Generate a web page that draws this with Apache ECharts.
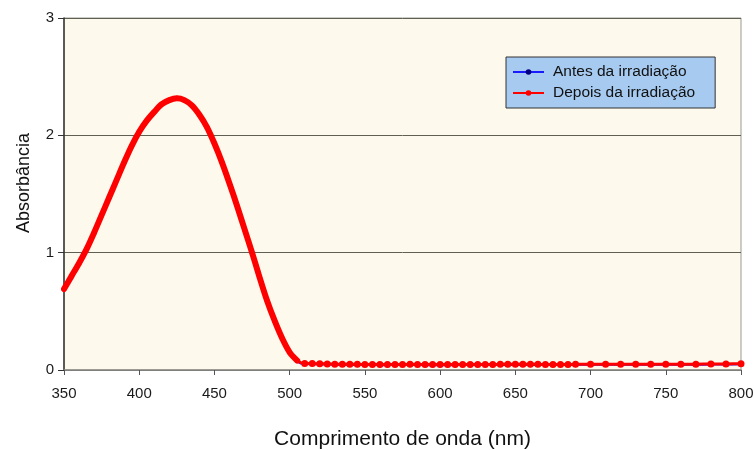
<!DOCTYPE html>
<html>
<head>
<meta charset="utf-8">
<script src="https://cdn.jsdelivr.net/npm/echarts@6/dist/echarts.min.js"></script>
<style>
  html, body { margin: 0; padding: 0; background: #ffffff; }
  #chart { width: 754px; height: 450px; }
</style>
</head>
<body>
<div id="chart"></div>
<script>
// Absorption spectrum before and after irradiation (wavelength in nm)
const wavelengths = [
  350, 355, 360, 365, 370, 375, 380, 385, 390, 395,
  400, 405, 410, 415, 420, 425, 430, 435, 440, 445,
  450, 455, 460, 465, 470, 475, 480, 485, 490, 495,
  500, 505, 510, 515, 520, 525, 530, 535, 540, 545,
  550, 555, 560, 565, 570, 575, 580, 585, 590, 595,
  600, 605, 610, 615, 620, 625, 630, 635, 640, 645,
  650, 655, 660, 665, 670, 675, 680, 685, 690, 700,
  710, 720, 730, 740, 750, 760, 770, 780, 790, 800
];

const depois = [
  0.69, 0.80, 0.91, 1.03, 1.17, 1.32, 1.47, 1.62, 1.77, 1.91,
  2.03, 2.125, 2.20, 2.265, 2.30, 2.315, 2.30, 2.255, 2.175, 2.07,
  1.93, 1.77, 1.59, 1.40, 1.20, 1.00, 0.79, 0.59, 0.42, 0.27,
  0.15, 0.08, 0.055, 0.055, 0.053, 0.052, 0.050, 0.050, 0.049, 0.048,
  0.047, 0.047, 0.046, 0.046, 0.047, 0.047, 0.048, 0.047, 0.046, 0.046,
  0.046, 0.046, 0.046, 0.047, 0.047, 0.047, 0.047, 0.047, 0.048, 0.048,
  0.048, 0.048, 0.048, 0.048, 0.047, 0.047, 0.047, 0.047, 0.048, 0.049,
  0.049, 0.049, 0.049, 0.049, 0.050, 0.050, 0.050, 0.051, 0.052, 0.054
];

const antes = [
  0.68, 0.79, 0.90, 1.02, 1.16, 1.31, 1.46, 1.61, 1.76, 1.90,
  2.02, 2.115, 2.19, 2.255, 2.29, 2.305, 2.29, 2.245, 2.165, 2.06,
  1.92, 1.76, 1.58, 1.39, 1.19, 0.99, 0.78, 0.58, 0.41, 0.26,
  0.14, 0.07, 0.048, 0.047, 0.046, 0.045, 0.044, 0.043, 0.042, 0.041,
  0.040, 0.040, 0.039, 0.039, 0.040, 0.040, 0.041, 0.040, 0.039, 0.039,
  0.039, 0.039, 0.039, 0.040, 0.040, 0.040, 0.040, 0.040, 0.041, 0.041,
  0.041, 0.041, 0.041, 0.041, 0.040, 0.040, 0.040, 0.040, 0.041, 0.042,
  0.042, 0.042, 0.042, 0.042, 0.043, 0.043, 0.043, 0.044, 0.045, 0.047
];

const xTicks = { min: 350, max: 800, step: 50 };
const yTicks = { min: 0, max: 3, step: 1 };
const seriesNames = ['Antes da irradiação', 'Depois da irradiação'];

// the band where the spectrometer sampled densely (thick trace, no separate dots)
const denseEnd = 505;

const pairs = (ys) => wavelengths.map((w, i) => [w, ys[i]]);
const densePairs = pairs(depois).filter(p => p[0] <= denseEnd);
const dotSize = (big, small) => (val) => (val[0] <= denseEnd ? small : big);

const chart = echarts.init(document.getElementById('chart'), null, { renderer: 'canvas' });

chart.setOption({
  animation: false,
  backgroundColor: '#ffffff',
  textStyle: { fontFamily: 'Liberation Sans, Arial, sans-serif' },
  grid: {
    left: 64, right: 13, top: 18, bottom: 80,
    outerBoundsMode: 'none',
    containLabel: false,
    show: true,
    backgroundColor: '#fdf9ec',
    borderColor: '#9a9a94',
    borderWidth: 1
  },
  legend: {
    data: seriesNames,
    orient: 'vertical',
    left: 506, top: 57,
    padding: [7, 20, 7, 6],
    itemGap: 5,
    itemWidth: 31,
    itemHeight: 7,
    backgroundColor: '#a6caf0',
    borderColor: '#333333',
    borderWidth: 1,
    borderRadius: 0,
    textStyle: { fontSize: 15.5, color: '#111111', padding: [0, 0, 0, 4] }
  },
  xAxis: {
    type: 'value',
    min: xTicks.min, max: xTicks.max, interval: xTicks.step,
    name: 'Comprimento de onda (nm)',
    nameLocation: 'middle',
    nameGap: 59,
    nameTextStyle: { fontSize: 21, color: '#111111' },
    axisLine: { show: true, lineStyle: { color: '#8c8c88', width: 1.5 } },
    axisTick: { show: true, inside: false, length: 5, lineStyle: { color: '#555555' } },
    axisLabel: { fontSize: 15, color: '#1a1a1a', margin: 16 },
    splitLine: { show: false }
  },
  yAxis: {
    type: 'value',
    min: yTicks.min, max: yTicks.max, interval: yTicks.step,
    name: 'Absorbância',
    nameLocation: 'middle',
    nameGap: 31,
    nameTextStyle: { fontSize: 18, color: '#111111', padding: [0, 0, 0, 22] },
    axisLine: { show: true, lineStyle: { color: '#333333', width: 1.5 } },
    axisTick: { show: true, inside: false, length: 6, lineStyle: { color: '#333333' } },
    axisLabel: { fontSize: 15, color: '#1a1a1a', margin: 10 },
    splitLine: { show: true, lineStyle: { color: '#5f5f52', width: 1 } }
  },
  series: [
    {
      name: seriesNames[0],
      type: 'line',
      data: pairs(antes),
      smooth: 0.3,
      symbol: 'circle',
      symbolSize: dotSize(4, 2),
      showAllSymbol: true,
      itemStyle: { color: '#000080' },
      lineStyle: { color: '#1a1aff', width: 1.5 },
      z: 2
    },
    {
      name: seriesNames[1] + ' (traço)',
      type: 'line',
      data: densePairs,
      smooth: 0.3,
      symbol: 'none',
      itemStyle: { color: '#ff0000' },
      lineStyle: { color: '#ff0000', width: 6, cap: 'round', join: 'round' },
      z: 3
    },
    {
      name: seriesNames[1],
      type: 'line',
      data: pairs(depois),
      smooth: 0.3,
      symbol: 'circle',
      symbolSize: dotSize(7, 5),
      showAllSymbol: true,
      itemStyle: { color: '#ff0000' },
      lineStyle: { color: '#ff0000', width: 3 },
      z: 4
    }
  ]
});
</script>
</body>
</html>
